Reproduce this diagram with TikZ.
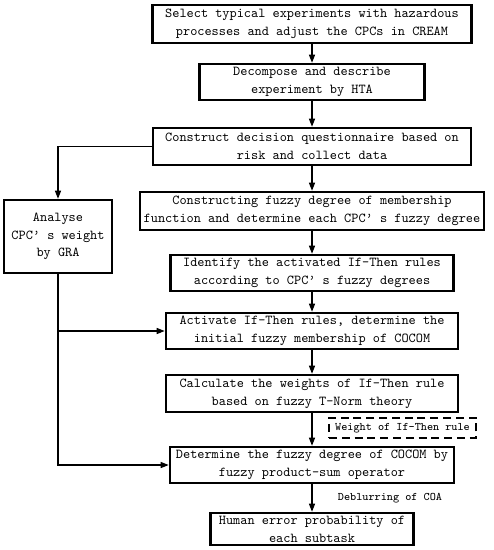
\documentclass[tikz,border=0pt]{standalone}
\usetikzlibrary{arrows.meta}
\begin{document}
\begin{tikzpicture}[x=0.025cm, y=-0.025cm,
		box/.style={draw, line width=1.8pt, inner sep=0pt, align=center,
			font=\ttfamily\fontsize{9.7}{12.6}\selectfont},
		weightbox/.style={draw, line width=1.4pt, dash pattern=on 0.2cm off 0.12cm,
			inner sep=0pt, font=\ttfamily\fontsize{8.2}{10}\selectfont},
		note/.style={inner sep=0pt, font=\ttfamily\fontsize{8.2}{10}\selectfont},
		flow/.style={line width=0.85pt, -{Triangle[length=0.2cm, width=0.15cm]}}]
		%\draw[help lines] (0,0) grid (493,550);
		\useasboundingbox (0,0) rectangle (493,550);

		\node[box, minimum width=7.975cm, minimum height=0.95cm] (select) at (312,24)
			{Select typical experiments with hazardous\\processes and adjust the CPCs in CREAM};
		\node[box, minimum width=5.625cm, minimum height=0.9cm] (hta) at (312,82)
			{Decompose and describe\\experiment by HTA};
		\node[box, minimum width=7.95cm, minimum height=0.925cm] (survey) at (312,146.5)
			{Construct decision questionnaire based on\\risk and collect data};
		\node[box, minimum width=8.6cm, minimum height=0.95cm] (member) at (312,211)
			{Constructing fuzzy degree of membership\\function and determine each CPC’ s fuzzy degree};
		\node[box, minimum width=7.075cm, minimum height=0.9cm] (identify) at (312,273)
			{Identify the activated If-Then rules\\according to CPC’ s fuzzy degrees};
		\node[box, minimum width=7.3cm, minimum height=0.9cm] (activate) at (312,331)
			{Activate If-Then rules, determine the\\initial fuzzy membership of COCOM};
		\node[box, minimum width=7.3cm, minimum height=0.925cm] (tnorm) at (312,393.5)
			{Calculate the weights of If-Then rule\\based on fuzzy T-Norm theory};
		\node[box, minimum width=7.1cm, minimum height=0.9cm] (cocom) at (312,465)
			{Determine the fuzzy degree of COCOM by\\fuzzy product-sum operator};
		\node[box, minimum width=5.075cm, minimum height=0.8cm] (hep) at (312,529)
			{Human error probability of\\each subtask};

		\node[box, minimum width=2.7cm, minimum height=1.825cm] (gra) at (58,236.5)
			{Analyse\\CPC’ s weight\\by GRA};

		\node[weightbox, minimum width=3.675cm, minimum height=0.5cm] (weight) at (402.5,428)
			{Weight of If-Then rule};
		\node[note] (coa) at (390,498) {Deblurring of COA};

		\draw[flow] (select) -- (hta);
		\draw[flow] (hta) -- (survey);
		\draw[flow] (survey) -- (member);
		\draw[flow] (member) -- (identify);
		\draw[flow] (identify) -- (activate);
		\draw[flow] (activate) -- (tnorm);
		\draw[flow] (tnorm) -- (cocom);
		\draw[flow] (cocom) -- (hep);

		\draw[flow] (survey.west) -| (gra.north);
		\draw[flow] (gra.south) |- (cocom.west);
		\coordinate (split) at (gra.south |- activate.west);
		\draw[flow] (split) -- (activate.west);
\end{tikzpicture}
\end{document}
